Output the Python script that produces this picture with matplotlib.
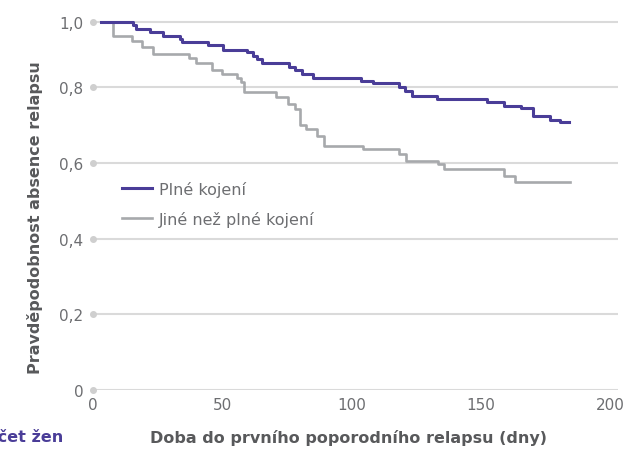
import numpy as np
import matplotlib
matplotlib.use('Agg')
import matplotlib.pyplot as plt

# (dny, pravdepodobnost)
plne_t = [3, 15.4, 16.6, 22.0, 27.0, 33.7, 34.4, 44.6, 50.2, 59.5, 62.0, 63.4, 65.3, 75.9, 78.1,
          80.7, 85.0, 103.6, 108.4, 118.5, 120.7, 123.3, 133.0, 152.3, 159.0, 165.5, 170.1,
          176.8, 180.7, 184.3]
plne_s = [1.0, 0.991, 0.978, 0.969, 0.955, 0.947, 0.937, 0.928, 0.915, 0.907, 0.895, 0.886,
          0.874, 0.861, 0.853, 0.841, 0.830, 0.820, 0.812, 0.802, 0.791, 0.776, 0.769, 0.761,
          0.752, 0.745, 0.725, 0.714, 0.708, 0.708]
jine_t = [3, 7.9, 15.0, 18.8, 23.3, 37.1, 40.0, 45.9, 49.8, 55.6, 57.3, 58.6, 70.9, 75.4, 78.1,
          80.1, 82.3, 86.7, 89.4, 104.4, 118.3, 120.9, 133.6, 135.8, 159.0, 163.2, 184.5]
jine_s = [1.0, 0.955, 0.942, 0.922, 0.902, 0.889, 0.873, 0.854, 0.841, 0.828, 0.816, 0.789,
          0.775, 0.756, 0.742, 0.701, 0.689, 0.672, 0.645, 0.636, 0.623, 0.606, 0.598, 0.584,
          0.567, 0.551, 0.551]

labels = ['Plné kojení', 'Jiné než plné kojení']
yticks = [0, 0.2, 0.4, 0.6, 0.8, 1.0]
ytick_labels = ['0', '0,2', '0,4', '0,6', '0,8', '1,0']
xticks = [0, 50, 100, 150, 200]

PURPLE = '#4a3d98'
GREY = '#a7a9ac'
TXT = '#6d6e71'
DARK = '#58595b'

# horni usek osy je v originale stlaceny
def fwd(v):
    v = np.asarray(v, dtype=float)
    return np.where(v <= 0.8, v, 0.8 + (v - 0.8) * 0.868)

def inv(u):
    u = np.asarray(u, dtype=float)
    return np.where(u <= 0.8, u, 0.8 + (u - 0.8) / 0.868)

W, H = 629, 452
fig = plt.figure(figsize=(W / 100, H / 100), dpi=100)
ax = fig.add_axes([93 / W, 61 / H, (617.8 - 93) / W, 371.6 / H])
ax.set_yscale('function', functions=(fwd, inv))
ax.set_xlim(0, 203)
ax.set_ylim(0, 1.01)

ax.step(jine_t, jine_s, where='post', color=GREY, lw=1.9, label=labels[1], zorder=4, clip_on=False)
ax.step(plne_t, plne_s, where='post', color=PURPLE, lw=2.2, label=labels[0], zorder=5, clip_on=False)

for s in ax.spines.values():
    s.set_visible(False)
ax.set_yticks(yticks)
ax.set_yticklabels(ytick_labels)
ax.set_xticks(xticks)
ax.yaxis.set_minor_locator(matplotlib.ticker.NullLocator())
ax.tick_params(length=0, labelsize=11, labelcolor=TXT)
ax.tick_params(axis='y', pad=7)
ax.tick_params(axis='x', pad=5)
ax.yaxis.grid(True, color='#dadada', lw=1.5, zorder=1)
ax.set_axisbelow(True)
ax.plot([0] * len(yticks), yticks, 'o', ms=4, color='#cfcfcf', clip_on=False, zorder=2)

h, l = ax.get_legend_handles_labels()
leg = ax.legend(h[::-1], l[::-1], loc='upper left', bbox_to_anchor=(122 / W, 1 - 182 / H),
                bbox_transform=fig.transFigure, frameon=False, fontsize=11.5,
                handlelength=1.9, handletextpad=0.4, labelspacing=0.85,
                borderpad=0, borderaxespad=0)
for t in leg.get_texts():
    t.set_color(TXT)

fig.text(35 / W, 1 - 218 / H, 'Pravděpodobnost absence relapsu', rotation=90,
         ha='center', va='center', fontsize=11.5, fontweight='bold', color=DARK)
fig.text(349 / W, 1 - 438 / H, 'Doba do prvního poporodního relapsu (dny)',
         ha='center', va='center', fontsize=11.5, fontweight='bold', color=DARK)
# v referenci je tento popisek u leveho okraje oriznuty
fig.text(63 / W, 1 - 438 / H, 'Počet žen', ha='right', va='center',
         fontsize=11.5, fontweight='bold', color=PURPLE)

fig.savefig('out.png', dpi=100)
